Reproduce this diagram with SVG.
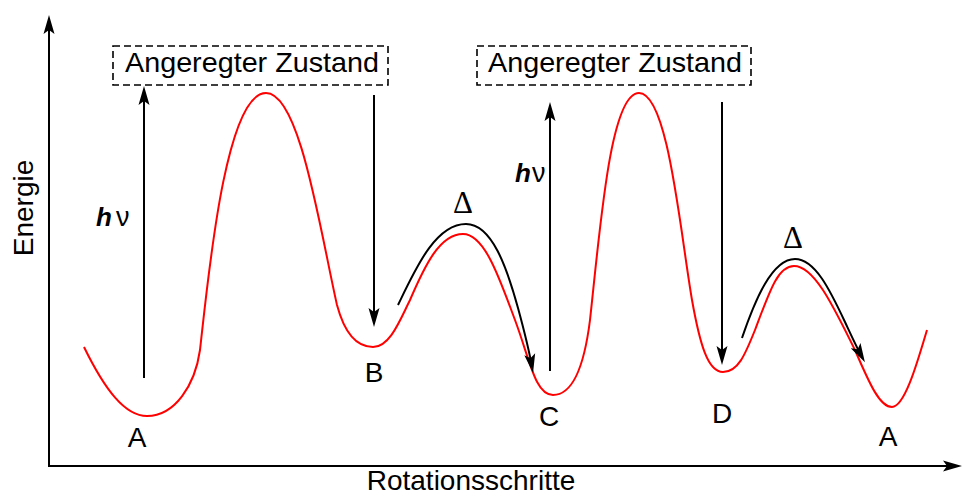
<svg xmlns="http://www.w3.org/2000/svg" width="965" height="495" viewBox="0 0 965 495">
<style>
.ln{fill:none;stroke:#000;stroke-width:2}
.curve{fill:none;stroke:#ff0000;stroke-width:2}
.box{fill:none;stroke:#000;stroke-width:1.6;stroke-dasharray:7 4}
.t{font-family:"Liberation Sans",Arial,sans-serif;font-size:28px;fill:#000}
.d{font-family:"Liberation Serif","Times New Roman",serif;font-size:31px;fill:#000}
.h{font-family:"Liberation Sans",Arial,sans-serif;font-size:26px;font-weight:bold;font-style:italic}
.nu{font-family:"Liberation Sans",Arial,sans-serif;font-size:27px;font-weight:normal;font-style:normal}
</style>
<defs>
<marker id="ah" viewBox="0 0 20 12" markerWidth="20" markerHeight="12" refX="13" refY="6" orient="auto" markerUnits="userSpaceOnUse">
<path d="M0,0.5 L19,6 L0,11.5 L4,6 Z" fill="#000"/>
</marker>
</defs>
<rect width="965" height="495" fill="#fff"/>
<g id="axes">
<path class="ln" d="M49,466 L49,21" marker-end="url(#ah)"/>
<path class="ln" d="M48,466 L956,466" marker-end="url(#ah)"/>
<text class="t" transform="translate(33,208) rotate(-90)" text-anchor="middle">Energie</text>
<text class="t" x="471" y="490" text-anchor="middle">Rotationsschritte</text>
</g>
<g id="energy-curve">
<path class="curve" d="M84,347 C105,390 125,416 147,416 C175,416 195,385 200,350 C208,280 225,93 266,93 C300,93 320,230 337,305 C345,335 358,347 373,347 C390,347 400,320 410,300 C425,265 440,234 463,234 C485,234 500,280 515,320 C530,360 535,395 553,395 C575,395 585,360 590,320 C600,230 610,93 639,93 C668,93 680,230 692,300 C700,345 708,372 723,372 C738,372 745,355 755,330 C770,290 778,266 794,266 C815,266 835,310 855,350 C870,385 880,407 892,407 C905,407 918,360 927,330"/>
</g>
<g id="excited-1">
<rect class="box" x="113" y="46" width="275" height="39"/>
<text class="t" x="252" y="72" text-anchor="middle" textLength="254" lengthAdjust="spacingAndGlyphs">Angeregter Zustand</text>
</g>
<g id="excited-2">
<rect class="box" x="477" y="46" width="274" height="39"/>
<text class="t" x="615" y="72" text-anchor="middle" textLength="254" lengthAdjust="spacingAndGlyphs">Angeregter Zustand</text>
</g>
<g id="state-A1"><text class="t" x="137" y="447" text-anchor="middle">A</text></g>
<g id="state-B"><text class="t" x="374" y="382" text-anchor="middle">B</text></g>
<g id="state-C"><text class="t" x="549" y="426" text-anchor="middle">C</text></g>
<g id="state-D"><text class="t" x="722" y="423" text-anchor="middle">D</text></g>
<g id="state-A2"><text class="t" x="888" y="446" text-anchor="middle">A</text></g>
<g id="connectors">
<path class="ln" d="M144,378 L144,92" marker-end="url(#ah)"/>
<path class="ln" d="M374,95 L374,321" marker-end="url(#ah)"/>
<path class="ln" d="M550,371 L550,108" marker-end="url(#ah)"/>
<path class="ln" d="M722,102 L722,359" marker-end="url(#ah)"/>
<path class="ln" d="M398,305 C415,270 435,224 466,224 C492,224 507,268 518,308 C524,330 529,350 532,367" marker-end="url(#ah)"/>
<path class="ln" d="M742,338 C755,300 772,259 795,259 C815,259 830,290 845,322 C852,337 857,348 862,357" marker-end="url(#ah)"/>
<text x="96" y="226"><tspan class="h">h</tspan><tspan class="nu" x="116">ν</tspan></text>
<text x="515" y="182"><tspan class="h">h</tspan><tspan class="nu" x="532">ν</tspan></text>
<text class="d" x="463" y="213" text-anchor="middle">Δ</text>
<text class="d" x="793" y="248" text-anchor="middle">Δ</text>
</g>
</svg>
